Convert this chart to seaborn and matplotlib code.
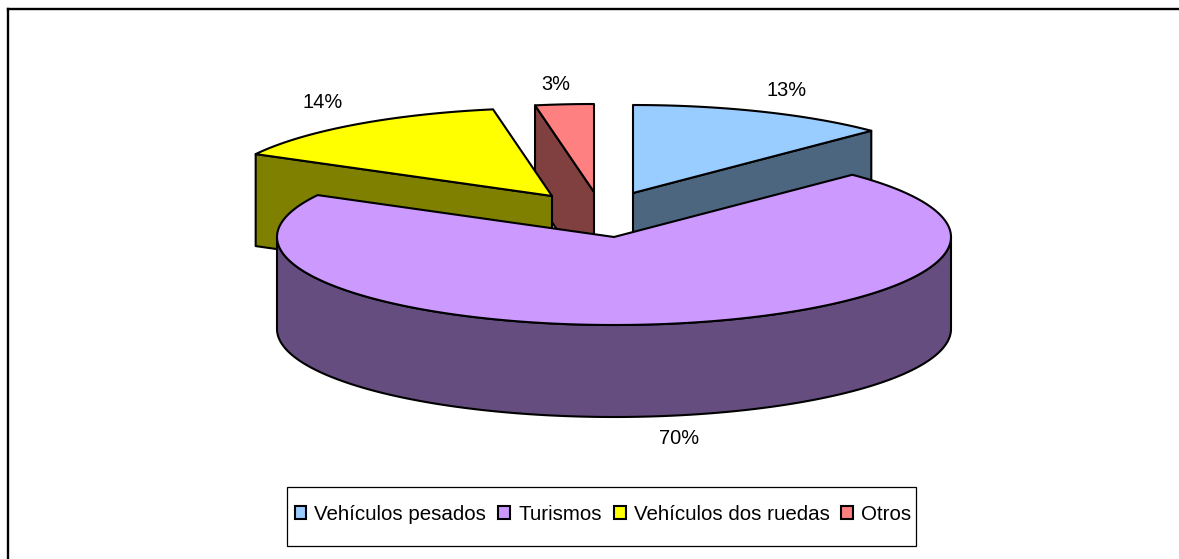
import numpy as np
import matplotlib.pyplot as plt
from matplotlib.colors import to_rgb
from matplotlib.patches import Rectangle
import seaborn as sns

categories = ['Vehículos pesados', 'Turismos', 'Vehículos dos ruedas', 'Otros']
shares = [12.5, 70.4, 14.3, 2.8]
colors = ['#99CCFF', '#CC99FF', '#FFFF00', '#FF8080']

# layout of the fake 3d pie, in pixels
center = (614, 237)
rx, ry, depth = 337, 88, 92
offsets = [(19, -44), (0, 0), (-62, -41), (-20, -45)]
label_pos = [(787, 90), (679, 438), (323, 103), (556, 84)]
draw_order = [3, 2, 0, 1]

sns.set_theme(style='white')
plt.rcParams['font.family'] = ['Liberation Sans', 'DejaVu Sans']

fig = plt.figure(figsize=(11.79, 5.59), dpi=100)
ax = fig.add_axes([8 / 1179, 0, 1171 / 1179, 550 / 559])
ax.set_xlim(8, 1179)
ax.set_ylim(559, 9)
ax.set_xticks([])
ax.set_yticks([])
sns.despine(ax=ax, top=False, right=True, left=False, bottom=True)
ax.spines['left'].set_color('black')
ax.spines['top'].set_color('black')
ax.spines['left'].set_linewidth(1.7)
ax.spines['top'].set_linewidth(1.7)

edges = np.cumsum([0] + shares) / sum(shares) * 2 * np.pi


def rim(cx, cy, a, b):
    t = np.linspace(a, b, max(int((b - a) * 60), 2))
    return cx + rx * np.sin(t), cy - ry * np.cos(t)


def cut_face(cx, cy, a, color):
    ox, oy = rim(cx, cy, a, a)
    xs = [cx, ox[0], ox[0], cx]
    ys = [cy, oy[0], oy[0] + depth, cy + depth]
    ax.fill(xs, ys, facecolor=color, edgecolor='black', lw=1.5, joinstyle='round')


handles = {}
for i in draw_order:
    a, b = edges[i], edges[i + 1]
    cx, cy = center[0] + offsets[i][0], center[1] + offsets[i][1]
    dark = tuple(np.array(to_rgb(colors[i])) / 2)

    # only the faces turned towards the viewer
    if np.sin(a) < -1e-6:
        cut_face(cx, cy, a, dark)
    if np.sin(b) > 1e-6:
        cut_face(cx, cy, b, dark)

    lo, hi = max(a, np.pi / 2), min(b, 3 * np.pi / 2)
    if hi > lo:
        wx, wy = rim(cx, cy, lo, hi)
        ax.fill(np.r_[wx, wx[::-1]], np.r_[wy, wy[::-1] + depth],
                facecolor=dark, edgecolor='black', lw=1.5)

    tx, ty = rim(cx, cy, a, b)
    handles[i] = ax.fill(np.r_[cx, tx], np.r_[cy, ty], facecolor=colors[i],
                         edgecolor='black', lw=1.5, joinstyle='round')[0]

for v, (x, y) in zip(shares, label_pos):
    ax.text(x, y, f'{int(v + 0.5)}%', ha='center', va='center', fontsize=14.4, color='black')

ax.add_patch(Rectangle((286.5, 487), 629, 58.5, facecolor='white', edgecolor='black', lw=0.9, zorder=4))
leg = ax.legend([handles[i] for i in range(4)], categories, ncols=4, loc='center',
                bbox_to_anchor=(603, 514), bbox_transform=ax.transData,
                fontsize=14.8, frameon=False, borderpad=0, borderaxespad=0,
                handlelength=0.58, handleheight=0.58, handletextpad=0.39,
                columnspacing=0.58, labelspacing=0)
leg.set_zorder(5)
for t in leg.get_texts():
    t.set_color('black')

fig.savefig('out.png', dpi=100)
